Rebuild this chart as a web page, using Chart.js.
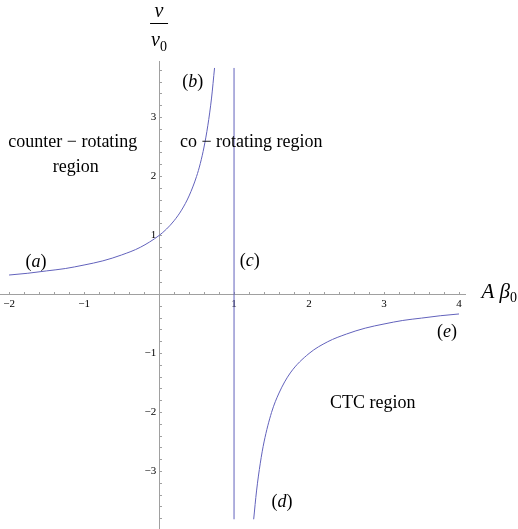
<!DOCTYPE html>
<html>
<head>
<meta charset="utf-8">
<script src="https://cdn.jsdelivr.net/npm/chart.js@4/dist/chart.umd.min.js"></script>
<style>
  html, body { margin: 0; padding: 0; background: #fff; }
  #wrap { width: 518px; height: 529px; position: relative; }
</style>
</head>
<body>
<div id="wrap"><canvas id="plot"></canvas></div>
<script>
// branch (a)-(b): left of the pole
const leftX = [-2, -1.75, -1.5, -1.25, -1, -0.75, -0.5, -0.25, 0, 0.1, 0.2, 0.3, 0.4, 0.5, 0.55, 0.6, 0.65, 0.7, 0.74];
const leftY = [0.33, 0.36, 0.40, 0.44, 0.50, 0.57, 0.67, 0.80, 1.00, 1.11, 1.25, 1.43, 1.67, 2.00, 2.22, 2.50, 2.86, 3.33, 3.84];

// branch (d)-(e): right of the pole
const rightX = [1.262, 1.3, 1.35, 1.4, 1.5, 1.6, 1.75, 2, 2.25, 2.5, 2.75, 3, 3.25, 3.5, 3.75, 4];
const rightY = [-3.81, -3.33, -2.86, -2.50, -2.00, -1.67, -1.33, -1.00, -0.80, -0.67, -0.57, -0.50, -0.44, -0.40, -0.36, -0.33];

// line (c)
const poleX = [1, 1];
const poleY = [-3.81, 3.84];

const xTickLabels = { "-2": "\u22122", "-1": "\u22121", "1": "1", "2": "2", "3": "3", "4": "4" };
const yTickLabels = { "-3": "\u22123", "-2": "\u22122", "-1": "\u22121", "1": "1", "2": "2", "3": "3" };

const lineColor = "rgb(98, 98, 188)";
const axisColor = "#a0a0a0";
const serif = "'Liberation Serif', 'DejaVu Serif', serif";

const toPoints = (xs, ys) => xs.map((x, i) => ({ x: x, y: ys[i] }));

// text runs: [text, italic, subscript]
const notes = [
  { x: -1.15, y: 2.58, size: 18, runs: [["counter \u2212 rotating"]] },
  { x: -1.11, y: 2.16, size: 18, runs: [["region"]] },
  { x: 1.23, y: 2.58, size: 18, runs: [["co \u2212 rotating region"]] },
  { x: 2.85, y: -1.84, size: 18, runs: [["CTC region"]] },
  { x: -1.64, y: 0.55, size: 18, runs: [["("], ["a", true], [")"]] },
  { x: 0.45, y: 3.60, size: 18, runs: [["("], ["b", true], [")"]] },
  { x: 1.21, y: 0.57, size: 18, runs: [["("], ["c", true], [")"]] },
  { x: 1.64, y: -3.53, size: 18, runs: [["("], ["d", true], [")"]] },
  { x: 3.84, y: -0.64, size: 18, runs: [["("], ["e", true], [")"]] },
];

function drawRuns(ctx, runs, cx, cy, size) {
  const fontOf = (r) => (r[1] ? "italic " : "") + (r[2] ? Math.round(size * 0.7) : size) + "px " + serif;
  let total = 0;
  runs.forEach((r) => { ctx.font = fontOf(r); total += ctx.measureText(r[0]).width; });
  let x = cx - total / 2;
  ctx.textBaseline = "middle";
  ctx.textAlign = "left";
  runs.forEach((r) => {
    ctx.font = fontOf(r);
    ctx.fillText(r[0], x, r[2] ? cy + size * 0.3 : cy);
    x += ctx.measureText(r[0]).width;
  });
}

const textPlugin = {
  id: "texts",
  afterDraw(chart) {
    const ctx = chart.ctx;
    const xs = chart.scales.x;
    const ys = chart.scales.y;
    ctx.save();
    ctx.fillStyle = "#000";
    notes.forEach((n) => drawRuns(ctx, n.runs, xs.getPixelForValue(n.x), ys.getPixelForValue(n.y), n.size));

    // axis labels
    const ax = xs.getPixelForValue(4.3);
    const ay = ys.getPixelForValue(0.03);
    ctx.font = "italic 21px " + serif;
    ctx.textBaseline = "middle";
    ctx.textAlign = "left";
    ctx.fillText("A \u03b2", ax, ay);
    const w = ctx.measureText("A \u03b2").width;
    ctx.font = "14px " + serif;
    ctx.fillText("0", ax + w, ay + 6);

    const fx = xs.getPixelForValue(0);
    const top = chart.chartArea.top;
    drawRuns(ctx, [["v", true]], fx, top - 49, 20);
    ctx.strokeStyle = "#000";
    ctx.lineWidth = 1;
    ctx.beginPath();
    ctx.moveTo(fx - 9, top - 37.5);
    ctx.lineTo(fx + 9, top - 37.5);
    ctx.stroke();
    drawRuns(ctx, [["v", true], ["0", false, true]], fx, top - 20, 20);
    ctx.restore();
  },
};

const isWhole = (v) => Math.abs(v - Math.round(v)) < 1e-6;

new Chart(document.getElementById("plot"), {
  type: "scatter",
  data: {
    datasets: [
      { data: toPoints(leftX, leftY), cubicInterpolationMode: "monotone" },
      { data: toPoints(rightX, rightY), cubicInterpolationMode: "monotone" },
      { data: toPoints(poleX, poleY) },
    ].map((d) => Object.assign(d, {
      showLine: true,
      borderColor: lineColor,
      borderWidth: 1,
      pointRadius: 0,
      fill: false,
    })),
  },
  plugins: [textPlugin],
  options: {
    responsive: true,
    maintainAspectRatio: false,
    animation: false,
    layout: { padding: { left: 0, right: 53, top: 61, bottom: 0 } },
    plugins: { legend: { display: false }, tooltip: { enabled: false } },
    scales: {
      x: {
        type: "linear",
        position: { y: 0 },
        min: -2.121,
        max: 4.08,
        afterFit: (s) => { s.height = 0; s.paddingLeft = 0; s.paddingRight = 0; },
        border: { display: true, color: axisColor, width: 1 },
        grid: {
          display: true,
          drawOnChartArea: false,
          drawTicks: true,
          tickLength: -3,
          tickColor: axisColor,
        },
        ticks: {
          stepSize: 0.2,
          includeBounds: false,
          autoSkip: false,
          maxRotation: 0,
          padding: 6,
          color: "#000",
          font: { family: serif, size: 11 },
          callback: (v) => (isWhole(v) ? (xTickLabels[String(Math.round(v))] || "") : ""),
        },
      },
      y: {
        type: "linear",
        position: { x: 0 },
        min: -3.975,
        max: 3.958,
        afterFit: (s) => { s.width = 0; s.paddingTop = 0; s.paddingBottom = 0; },
        border: { display: true, color: axisColor, width: 1 },
        grid: {
          display: true,
          drawOnChartArea: false,
          drawTicks: true,
          tickLength: -3,
          tickColor: axisColor,
        },
        ticks: {
          stepSize: 0.2,
          includeBounds: false,
          autoSkip: false,
          color: "#000",
          font: { family: serif, size: 11 },
          callback: (v) => (isWhole(v) ? ((yTickLabels[String(Math.round(v))] || "") + " ") : ""),
        },
      },
    },
  },
});
</script>
</body>
</html>
